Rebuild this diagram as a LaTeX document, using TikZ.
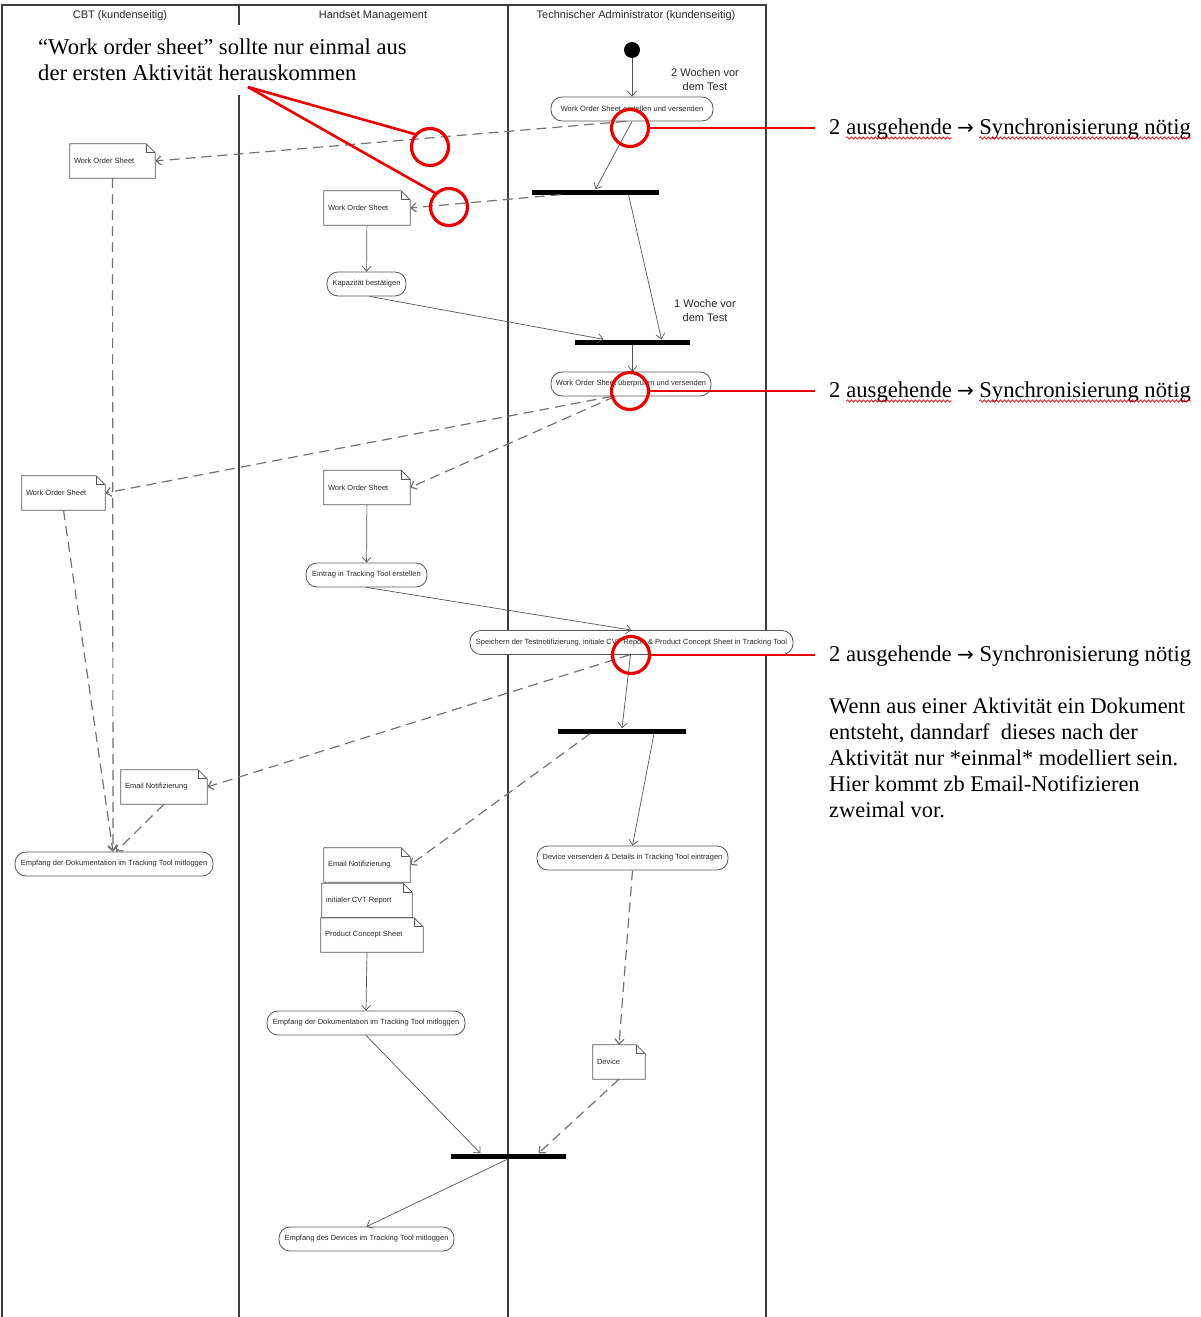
\documentclass[tikz,border=0pt]{standalone}
\usepackage{fontspec}
\setmainfont{Liberation Serif}
\newfontfamily\diafont{Liberation Sans}
\newfontfamily\arrfont{DejaVu Sans}
\usetikzlibrary{arrows.meta,decorations.pathmorphing}
\definecolor{frameC}{RGB}{60,60,60}
\definecolor{lineC}{RGB}{85,85,85}
\definecolor{dashC}{RGB}{115,115,115}
\definecolor{redC}{RGB}{235,0,0}
\definecolor{txtC}{RGB}{40,40,40}
\tikzset{
  lane/.style={draw=frameC, line width=1.1pt},
  hdr/.style={font=\diafont\fontsize{11}{13}\selectfont, text=txtC, inner sep=0pt},
  timelbl/.style={font=\diafont\fontsize{11}{14}\selectfont, text=txtC, align=center, inner sep=0pt},
  act/.style={draw=lineC, line width=0.8pt, fill=white, rounded corners=11pt, minimum height=24pt, inner xsep=3pt, inner ysep=0pt, font=\diafont\fontsize{7.5}{9}\selectfont, text=txtC},
  bar/.style={fill=black, inner sep=0pt, minimum height=5pt},
  startdot/.style={circle, fill=black, minimum size=16pt, inner sep=0pt},
  doc/.style={inner xsep=4pt, inner ysep=0pt, minimum height=34pt, font=\diafont\fontsize{7.5}{9}\selectfont, text=txtC},
  docline/.style={draw=lineC, line width=0.8pt},
  flow/.style={draw=lineC, line width=0.7pt, -{Straight Barb[length=5pt,width=9pt]}},
  obj/.style={draw=dashC, line width=1.2pt, dash pattern=on 10pt off 6pt, -{Straight Barb[length=5pt,width=9pt]}},
  redring/.style={draw=redC, line width=3.2pt, circle, minimum size=37pt, inner sep=0pt},
  redline/.style={draw=redC, line width=2.6pt},
  anno/.style={font=\fontsize{22.6}{26}\selectfont, inner sep=0pt, anchor=base west},
  annopar/.style={font=\fontsize{22.4}{26}\selectfont, inner sep=0pt, anchor=north west, align=left},
  squig/.style={draw=redC, line width=0.7pt, decorate, decoration={snake, amplitude=1.2pt, segment length=4pt}},
}
\newcommand{\docnote}[5]{%
  \node[doc] (#1) at (#2,#3) {\makebox[\dimexpr#4pt-8pt\relax][l]{#5}};
  \draw[docline] (#1.south west) -- (#1.north west) -- ([xshift=-9pt]#1.north east) -- ([yshift=-9pt]#1.north east) -- (#1.south east) -- cycle;
  \draw[docline] ([xshift=-9pt]#1.north east) |- ([yshift=-9pt]#1.north east);
}
\newcommand{\bigarr}{{\arrfont\fontsize{20}{24}\selectfont →}}
\begin{document}
\begin{tikzpicture}[x=1pt,y=-1pt]
\fill[white] (0,0) rectangle (1201,1317);
\useasboundingbox (0,0) rectangle (1201,1317);
% swimlanes
\draw[lane] (2,1317) -- (2,5) -- (766,5) -- (766,1317);
\draw[lane] (239,5) -- (239,1317);
\draw[lane] (508,5) -- (508,1317);
\node[hdr] (h1) at (120,16) {CBT (kundenseitig)};
\node[hdr] (h2) at (373,16) {Handset Management};
\node[hdr] (h3) at (636,16) {Technischer Administrator (kundenseitig)};
% top comment (white text box)
\node[fill=white, anchor=north west, inner xsep=8pt, inner ysep=14pt, align=left, font=\fontsize{22.6}{26}\selectfont] (topnote) at (30,25)
  {“Work order sheet” sollte nur einmal aus\\der ersten Aktivität herauskommen};
% technischer administrator
\node[startdot] (start) at (632,50) {};
\node[timelbl] (t1) at (705,80) {2 Wochen vor\\dem Test};
\node[act, minimum width=162pt] (a1) at (632,109) {Work Order Sheet erstellen und versenden};
\node[bar, minimum width=127pt] (f1) at (595.5,192) {};
\node[bar, minimum width=115pt] (j1) at (632.5,342) {};
\node[timelbl] (t2) at (705,311) {1 Woche vor\\dem Test};
\node[act, minimum width=160pt] (a2) at (631,384) {Work Order Sheet überprüfen und versenden};
\node[act, minimum width=323pt] (sp) at (631.5,642.5) {Speichern der Testnotifizierung, initiale CVT Report \& Product Concept Sheet in Tracking Tool};
\node[bar, minimum width=128pt] (f2) at (622,731) {};
\node[act, minimum width=191pt] (dv) at (632.5,858) {Device versenden \& Details in Tracking Tool eintragen};
\docnote{dev}{619}{1062}{52}{Device}
% handset management
\docnote{wos2}{367}{208}{86}{Work Order Sheet}
\node[act, minimum width=79pt] (kap) at (366.5,284) {Kapazität bestätigen};
\docnote{wos4}{367}{487.5}{86}{Work Order Sheet}
\node[act, minimum width=121pt] (ein) at (366.5,575) {Eintrag in Tracking Tool erstellen};
\docnote{emh}{367}{865}{86}{Email Notifizierung}
\docnote{cvt}{367}{900.5}{90}{initialer CVT Report}
\docnote{pcs}{372}{935}{102}{Product Concept Sheet}
\node[act, minimum width=198pt] (edh) at (366,1023) {Empfang der Dokumentation im Tracking Tool mitloggen};
\node[bar, minimum width=115pt] (j3) at (508.5,1156) {};
\node[act, minimum width=175pt] (edv) at (366.5,1239) {Empfang des Devices im Tracking Tool mitloggen};
% CBT
\docnote{wos1}{112.5}{161}{85}{Work Order Sheet}
\docnote{wos3}{63.5}{493}{83}{Work Order Sheet}
\docnote{emc}{164}{787}{86}{Email Notifizierung}
\node[act, minimum width=198pt] (edc) at (114,864) {Empfang der Dokumentation im Tracking Tool mitloggen};
% control flows
\draw[flow] (start) -- (a1);
\draw[flow] (a1.south) -- (f1.north);
\draw[flow] ([xshift=33pt]f1.south) -- ([xshift=29pt]j1.north);
\draw[flow] ([xshift=3pt]kap.south) -- ([xshift=-29pt]j1.north);
\draw[flow] (j1.south) -- (j1.south |- a2.north);
\draw[flow] (wos2) -- (kap);
\draw[flow] (wos4) -- (ein);
\draw[flow] (ein.south) -- (sp.north);
\draw[flow] ([xshift=-1pt]sp.south) -- (f2.north);
\draw[flow] ([xshift=32pt]f2.south) -- (dv.north);
\draw[flow] ([xshift=-5pt]pcs.south) -- (edh.north);
\draw[flow] (edh.south) -- ([xshift=-28pt]j3.north);
\draw[flow] (j3.south) -- (edv.north);
% object flows
\draw[obj] ([xshift=-6pt]a1.south) -- (wos1.east);
\draw[obj] ([xshift=-35pt]f1.south) -- (wos2.east);
\draw[obj] ([xshift=-19pt]a2.south) -- (wos3.east);
\draw[obj] ([xshift=-16pt]a2.south) -- (wos4.east);
\draw[obj] ([xshift=-2pt]sp.south) -- (emc.east);
\draw[obj] ([xshift=-32pt]f2.south) -- (emh.east);
\draw[obj] (dv.south) -- (dev.north);
\draw[obj] (dev.south) -- ([xshift=30pt]j3.north);
\draw[obj] (wos1.south) -- ([xshift=-1pt]edc.north);
\draw[obj] (wos3.south) -- ([xshift=-1pt]edc.north);
\draw[obj] (emc.south) -- ([xshift=2pt]edc.north);
% red annotations
\node[redring] (r1) at (430,147) {};
\node[redring] (r2) at (449,207) {};
\node[redring] (r3) at (630,128) {};
\node[redring] (r4) at (630,391) {};
\node[redring] (r5) at (631,655) {};
\coordinate (p0) at (248,87);
\draw[redline] (p0) -- (r1.140);
\draw[redline] (p0) -- (r2.135);
\coordinate (e3) at (815,128);
\coordinate (e4) at (815,391);
\coordinate (e5) at (815,655);
\draw[redline] (r3.east) -- (e3);
\draw[redline] (r4.east) -- (e4);
\draw[redline] (r5.east) -- (e5);
% right-hand comments
\node[anno] (s1a) at (829,134) {2};
\node[anno] (s1b) at ([xshift=5.5pt]s1a.base east) {ausgehende};
\node[anno] (s1c) at ([xshift=5pt]s1b.base east) {\bigarr};
\node[anno] (s1d) at ([xshift=5pt]s1c.base east) {Synchronisierung nötig};
\draw[squig] ([yshift=-4pt]s1b.base west) -- ([yshift=-4pt]s1b.base east);
\draw[squig] ([yshift=-4pt]s1d.base west) -- ([yshift=-4pt]s1d.base east);
\node[anno] (s2a) at (829,397) {2};
\node[anno] (s2b) at ([xshift=5.5pt]s2a.base east) {ausgehende};
\node[anno] (s2c) at ([xshift=5pt]s2b.base east) {\bigarr};
\node[anno] (s2d) at ([xshift=5pt]s2c.base east) {Synchronisierung nötig};
\draw[squig] ([yshift=-4pt]s2b.base west) -- ([yshift=-4pt]s2b.base east);
\draw[squig] ([yshift=-4pt]s2d.base west) -- ([yshift=-4pt]s2d.base east);
\node[anno] (s3) at (829,661) {2 ausgehende \bigarr{} Synchronisierung nötig};
\node[annopar] (par) at (829,698) {Wenn aus einer Aktivität ein Dokument\\entsteht, danndarf \ dieses nach der\\Aktivität nur *einmal* modelliert sein.\\Hier kommt zb Email-Notifizieren\\zweimal vor.};
\end{tikzpicture}
\end{document}
